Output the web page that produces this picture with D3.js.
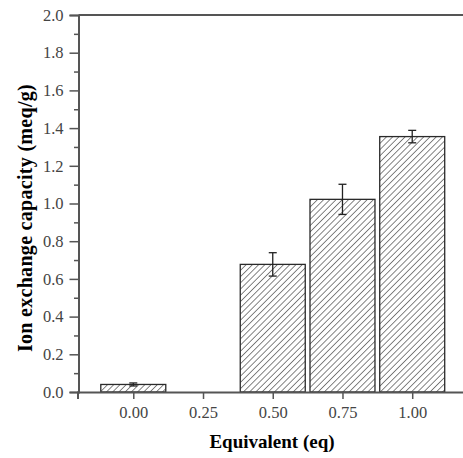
<!DOCTYPE html>
<html>
<head>
<meta charset="utf-8">
<script src="https://cdn.jsdelivr.net/npm/d3@7"></script>
<style>
  body { margin: 0; background: #fff; }
  svg { display: block; font-family: "Liberation Serif", "Times New Roman", serif; }
</style>
</head>
<body>
<div id="chart"></div>
<script>
// data
const equivalents = [0.00, 0.50, 0.75, 1.00];
const capacity = [0.04, 0.677, 1.022, 1.355];
const errors = [0.008, 0.062, 0.08, 0.033];
const xTicks = [0.00, 0.25, 0.50, 0.75, 1.00];
const yTicks = [0.0, 0.2, 0.4, 0.6, 0.8, 1.0, 1.2, 1.4, 1.6, 1.8, 2.0];
const yMinorTicks = [0.1, 0.3, 0.5, 0.7, 0.9, 1.1, 1.3, 1.5, 1.7, 1.9];

const width = 463, height = 458;
const plot = { left: 78.5, top: 15, bottom: 392 };

const svg = d3.select('#chart').append('svg')
    .attr('width', width)
    .attr('height', height);

// hatch pattern
const defs = svg.append('defs');
const pat = defs.append('pattern')
    .attr('id', 'hatch')
    .attr('patternUnits', 'userSpaceOnUse')
    .attr('width', 4.4).attr('height', 4.4)
    .attr('patternTransform', 'rotate(45)');
pat.append('rect').attr('width', 4.4).attr('height', 4.4).attr('fill', '#fff');
pat.append('line')
    .attr('x1', 0).attr('y1', 0).attr('x2', 0).attr('y2', 4.4)
    .attr('stroke', '#333').attr('stroke-width', 1.2);

// plot is cut at right side of the picture
const x = d3.scaleLinear().domain([-0.2, 1.2]).range([plot.left - 1, 468]);
const y = d3.scaleLinear().domain([0, 2]).range([plot.bottom, plot.top]);
const barW = x(0.233) - x(0);

const data = equivalents.map((e, i) => ({ eq: e, v: capacity[i], err: errors[i] }));

// bars
svg.append('g').selectAll('rect')
    .data(data)
    .join('rect')
    .attr('x', d => x(d.eq) - barW / 2)
    .attr('y', d => y(d.v))
    .attr('width', barW)
    .attr('height', d => y(0) - y(d.v))
    .attr('fill', 'url(#hatch)')
    .attr('stroke', '#2a2a2a')
    .attr('stroke-width', 1.3);

// error bars
const eb = svg.append('g').attr('stroke', '#222').attr('stroke-width', 1.3);
data.forEach(d => {
    const cx = x(d.eq);
    eb.append('line').attr('x1', cx).attr('x2', cx).attr('y1', y(d.v + d.err)).attr('y2', y(d.v - d.err));
    eb.append('line').attr('x1', cx - 4).attr('x2', cx + 4).attr('y1', y(d.v + d.err)).attr('y2', y(d.v + d.err));
    eb.append('line').attr('x1', cx - 4).attr('x2', cx + 4).attr('y1', y(d.v - d.err)).attr('y2', y(d.v - d.err));
});

// axes
const xAxis = svg.append('g')
    .attr('transform', `translate(0,${plot.bottom})`)
    .call(d3.axisBottom(x).tickValues(xTicks).tickFormat(d3.format('.2f')).tickSize(7).tickPadding(7));

const yAxis = svg.append('g')
    .attr('transform', `translate(${plot.left},0)`)
    .call(d3.axisLeft(y).tickValues(yTicks).tickFormat(d3.format('.1f')).tickSize(9).tickPadding(6));

svg.append('g')
    .attr('transform', `translate(${plot.left},0)`)
    .call(d3.axisLeft(y).tickValues(yMinorTicks).tickFormat('').tickSize(4.5))
    .call(g => g.select('.domain').remove());

[xAxis, yAxis].forEach(g => {
    g.select('.domain').attr('stroke', '#555').attr('stroke-width', 2);
});
svg.selectAll('.tick line').attr('stroke', '#555').attr('stroke-width', 1.5);
svg.selectAll('.tick text')
    .attr('fill', '#444')
    .style('font-size', '16.5px')
    .style('font-family', '"Liberation Serif", serif');

// top frame line
svg.append('line')
    .attr('x1', plot.left).attr('x2', 470)
    .attr('y1', plot.top).attr('y2', plot.top)
    .attr('stroke', '#555').attr('stroke-width', 2);

// axis titles
svg.append('text')
    .attr('x', 272).attr('y', 448)
    .attr('text-anchor', 'middle')
    .style('font-size', '19px')
    .style('font-weight', 'bold')
    .text('Equivalent (eq)');

svg.append('text')
    .attr('transform', 'translate(32,218) rotate(-90)')
    .attr('text-anchor', 'middle')
    .style('font-size', '20px')
    .style('font-weight', 'bold')
    .style('letter-spacing', '0.3px')
    .text('Ion exchange capacity (meq/g)');
</script>
</body>
</html>
